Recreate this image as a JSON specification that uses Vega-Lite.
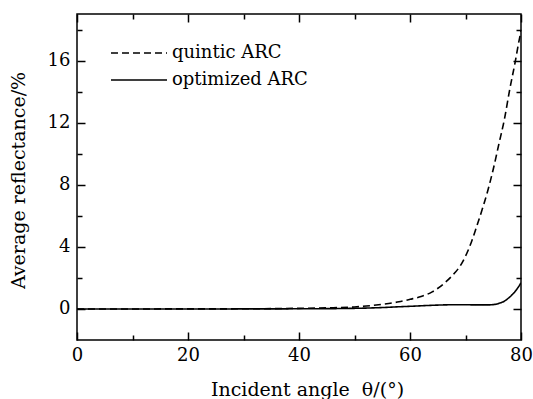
{
  "$schema": "https://vega.github.io/schema/vega-lite/v6.json",
  "width": 444,
  "height": 326,
  "autosize": {"type": "none"},
  "padding": {"left": 77, "top": 14, "right": 12, "bottom": 59},
  "background": "white",
  "config": {
    "view": {"stroke": "black", "strokeWidth": 1.5},
    "font": "DejaVu Serif",
    "axis": {
      "grid": false,
      "domain": false,
      "labelFont": "DejaVu Serif",
      "titleFont": "DejaVu Serif",
      "labelColor": "black",
      "titleColor": "black",
      "tickColor": "black",
      "tickWidth": 1.5,
      "zindex": 1,
      "titleFontWeight": "normal",
      "labelFontSize": 18,
      "titleFontSize": 19,
      "labelFlush": false,
      "labelOverlap": false
    },
    "legend": {
      "symbolType": "M-2.8,0H2.8",
      "symbolSize": 400,
      "symbolStrokeWidth": 1.6,
      "symbolStrokeColor": "black",
      "labelFont": "DejaVu Serif",
      "labelFontSize": 18,
      "labelColor": "black",
      "labelOffset": 22,
      "padding": 0,
      "rowPadding": 7
    }
  },
  "data": {
    "values": [
      {"theta": 0, "R": 0.0, "series": "quintic ARC"},
      {"theta": 10, "R": 0.0, "series": "quintic ARC"},
      {"theta": 20, "R": 0.005, "series": "quintic ARC"},
      {"theta": 30, "R": 0.01, "series": "quintic ARC"},
      {"theta": 40, "R": 0.04, "series": "quintic ARC"},
      {"theta": 45, "R": 0.07, "series": "quintic ARC"},
      {"theta": 50, "R": 0.13, "series": "quintic ARC"},
      {"theta": 55, "R": 0.3, "series": "quintic ARC"},
      {"theta": 58, "R": 0.46, "series": "quintic ARC"},
      {"theta": 60, "R": 0.62, "series": "quintic ARC"},
      {"theta": 62, "R": 0.8, "series": "quintic ARC"},
      {"theta": 64, "R": 1.1, "series": "quintic ARC"},
      {"theta": 66, "R": 1.6, "series": "quintic ARC"},
      {"theta": 68, "R": 2.3, "series": "quintic ARC"},
      {"theta": 69, "R": 2.75, "series": "quintic ARC"},
      {"theta": 70, "R": 3.4, "series": "quintic ARC"},
      {"theta": 71, "R": 4.25, "series": "quintic ARC"},
      {"theta": 72, "R": 5.3, "series": "quintic ARC"},
      {"theta": 73, "R": 6.4, "series": "quintic ARC"},
      {"theta": 74, "R": 7.6, "series": "quintic ARC"},
      {"theta": 75, "R": 9.0, "series": "quintic ARC"},
      {"theta": 76, "R": 10.6, "series": "quintic ARC"},
      {"theta": 77, "R": 12.2, "series": "quintic ARC"},
      {"theta": 78, "R": 14.2, "series": "quintic ARC"},
      {"theta": 79, "R": 16.0, "series": "quintic ARC"},
      {"theta": 79.5, "R": 17.0, "series": "quintic ARC"},
      {"theta": 80, "R": 17.9, "series": "quintic ARC"},
      {"theta": 0, "R": 0.0, "series": "optimized ARC"},
      {"theta": 20, "R": 0.0, "series": "optimized ARC"},
      {"theta": 40, "R": 0.01, "series": "optimized ARC"},
      {"theta": 50, "R": 0.04, "series": "optimized ARC"},
      {"theta": 55, "R": 0.09, "series": "optimized ARC"},
      {"theta": 58, "R": 0.14, "series": "optimized ARC"},
      {"theta": 60, "R": 0.17, "series": "optimized ARC"},
      {"theta": 63, "R": 0.22, "series": "optimized ARC"},
      {"theta": 66, "R": 0.26, "series": "optimized ARC"},
      {"theta": 68, "R": 0.27, "series": "optimized ARC"},
      {"theta": 70, "R": 0.27, "series": "optimized ARC"},
      {"theta": 72, "R": 0.26, "series": "optimized ARC"},
      {"theta": 74, "R": 0.26, "series": "optimized ARC"},
      {"theta": 75, "R": 0.28, "series": "optimized ARC"},
      {"theta": 76, "R": 0.36, "series": "optimized ARC"},
      {"theta": 77, "R": 0.5, "series": "optimized ARC"},
      {"theta": 78, "R": 0.78, "series": "optimized ARC"},
      {"theta": 79, "R": 1.15, "series": "optimized ARC"},
      {"theta": 79.5, "R": 1.4, "series": "optimized ARC"},
      {"theta": 80, "R": 1.68, "series": "optimized ARC"}
    ]
  },
  "layer": [
    {
      "mark": {"type": "line", "strokeWidth": 1.6, "color": "black", "interpolate": "monotone", "clip": true},
      "encoding": {
        "x": {"field": "theta", "type": "quantitative", "scale": {"domain": [0, 80], "nice": false, "zero": false},
          "axis": {"orient": "bottom", "values": [0, 20, 40, 60, 80], "ticks": false, "labelPadding": 6, "format": "d",
            "title": "Incident angle\u00a0\u00a0θ/(°)", "titleX": 230, "titleY": 55, "titleBaseline": "alphabetic"}},
        "y": {"field": "R", "type": "quantitative", "scale": {"domain": [-2, 19], "nice": false, "zero": false},
          "axis": {"orient": "left", "values": [0, 4, 8, 12, 16], "ticks": false, "labelPadding": 7, "format": "d",
            "title": "Average reflectance/%", "titleX": -49, "titleY": 166}},
        "strokeDash": {"field": "series", "type": "nominal",
          "scale": {"domain": ["quintic ARC", "optimized ARC"], "range": [[7, 4], [1, 0]]},
          "legend": {"title": null, "orient": "none", "legendX": 51, "legendY": 28}}
      }
    },
    {
      "mark": {"type": "point", "opacity": 0},
      "encoding": {
        "x": {"field": "theta", "type": "quantitative", "axis": {"orient": "bottom", "values": [0, 20, 40, 60, 80], "tickSize": -8, "labels": false, "title": null}},
        "y": {"field": "R", "type": "quantitative", "axis": {"orient": "left", "values": [0, 4, 8, 12, 16], "tickSize": -8, "labels": false, "title": null}}
      }
    },
    {
      "mark": {"type": "point", "opacity": 0},
      "encoding": {
        "x": {"field": "theta", "type": "quantitative", "axis": {"orient": "bottom", "values": [10, 30, 50, 70], "tickSize": -5, "labels": false, "title": null}},
        "y": {"field": "R", "type": "quantitative", "axis": {"orient": "left", "values": [2, 6, 10, 14, 18], "tickSize": -5, "labels": false, "title": null}}
      }
    },
    {
      "mark": {"type": "point", "opacity": 0},
      "encoding": {
        "x": {"field": "theta", "type": "quantitative", "axis": {"orient": "top", "values": [0, 20, 40, 60, 80], "tickSize": -8, "labels": false, "title": null}},
        "y": {"field": "R", "type": "quantitative", "axis": {"orient": "right", "values": [0, 4, 8, 12, 16], "tickSize": -8, "labels": false, "title": null}}
      }
    },
    {
      "mark": {"type": "point", "opacity": 0},
      "encoding": {
        "x": {"field": "theta", "type": "quantitative", "axis": {"orient": "top", "values": [10, 30, 50, 70], "tickSize": -5, "labels": false, "title": null}},
        "y": {"field": "R", "type": "quantitative", "axis": {"orient": "right", "values": [2, 6, 10, 14, 18], "tickSize": -5, "labels": false, "title": null}}
      }
    }
  ],
  "resolve": {"axis": {"x": "independent", "y": "independent"}}
}
